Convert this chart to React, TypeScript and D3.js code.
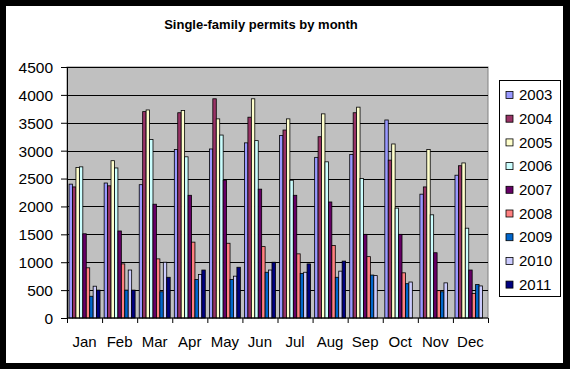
import React, { useEffect, useRef } from 'react';
import * as d3 from 'd3';

const months = ['Jan', 'Feb', 'Mar', 'Apr', 'May', 'Jun', 'Jul', 'Aug', 'Sep', 'Oct', 'Nov', 'Dec'];
const years = ['2003', '2004', '2005', '2006', '2007', '2008', '2009', '2010', '2011'];
const colors = ['#9999FF', '#993366', '#FFFFCC', '#CCFFFF', '#660066', '#FF8080', '#0066CC', '#CCCCFF', '#000080'];

const v2003 = [2400, 2420, 2390, 3020, 3030, 3140, 3270, 2880, 2930, 3550, 2220, 2560];
const v2004 = [2350, 2370, 3700, 3680, 3930, 3600, 3370, 3250, 3680, 2830, 2350, 2730];
const v2005 = [2700, 2820, 3730, 3720, 3570, 3930, 3570, 3660, 3780, 3120, 3020, 2780];
const v2006 = [2710, 2690, 3200, 2890, 3280, 3180, 2470, 2800, 2500, 1970, 1850, 1610];
const v2007 = [1510, 1560, 2040, 2200, 2470, 2310, 2200, 2080, 1500, 1500, 1170, 860];
const v2008 = [900, 970, 1060, 1360, 1340, 1280, 1150, 1300, 1100, 810, 490, 440];
const v2009 = [390, 500, 470, 690, 690, 820, 800, 730, 770, 615, 470, 600];
const v2010 = [570, 860, 1000, 780, 750, 860, 820, 840, 760, 645, 630, 575];
const v2011 = [500, 500, 730, 860, 910, 1000, 970, 1020, null, null, null, null];

const series = [v2003, v2004, v2005, v2006, v2007, v2008, v2009, v2010, v2011];
const yTicks = [0, 500, 1000, 1500, 2000, 2500, 3000, 3500, 4000, 4500];

const width = 570,
  height = 369;
const plot = { left: 67, right: 488, top: 67, bottom: 318 };
const font = 'Liberation Sans, Arial, sans-serif';

export default function App() {
  const ref = useRef<SVGSVGElement>(null);

  useEffect(() => {
    const svg = d3.select(ref.current);
    svg.selectAll('*').remove();

    // frame
    svg.append('rect').attr('width', width).attr('height', height).attr('fill', '#000');
    svg.append('rect').attr('x', 6).attr('y', 6).attr('width', 557).attr('height', 357).attr('fill', '#fff');

    svg
      .append('text')
      .attr('x', 261)
      .attr('y', 29)
      .attr('text-anchor', 'middle')
      .attr('font-family', font)
      .attr('font-size', 13)
      .attr('font-weight', 'bold')
      .text('Single-family permits by month');

    const x0 = d3.scaleBand().domain(months).range([plot.left, plot.right]).padding(0);
    const x1 = d3
      .scaleBand()
      .domain(years)
      .range([0, x0.bandwidth()])
      .paddingInner(0)
      .paddingOuter(0.6);
    const y = d3.scaleLinear().domain([0, 4500]).range([plot.bottom, plot.top]);

    svg
      .append('rect')
      .attr('x', plot.left)
      .attr('y', plot.top)
      .attr('width', plot.right - plot.left)
      .attr('height', plot.bottom - plot.top)
      .attr('fill', '#C0C0C0')
      .attr('stroke', '#808080');

    // gridlines
    svg
      .append('g')
      .selectAll('line')
      .data(yTicks.slice(1))
      .join('line')
      .attr('x1', plot.left)
      .attr('x2', plot.right)
      .attr('y1', (d) => Math.round(y(d)) + 0.5)
      .attr('y2', (d) => Math.round(y(d)) + 0.5)
      .attr('stroke', '#000');

    // bars
    const bars = svg.append('g');
    series.forEach((vals, si) => {
      bars
        .append('g')
        .selectAll('rect')
        .data(vals.map((v, i) => ({ month: months[i], v })).filter((d) => d.v != null))
        .join('rect')
        .attr('x', (d) => x0(d.month)! + x1(years[si])!)
        .attr('y', (d) => y(d.v as number))
        .attr('width', x1.bandwidth())
        .attr('height', (d) => y(0) - y(d.v as number))
        .attr('fill', colors[si])
        .attr('stroke', '#000')
        .attr('stroke-width', 0.8);
    });

    // y axis
    const yAxis = svg.append('g').attr('transform', `translate(${plot.left},0)`);
    yAxis.call(
      d3
        .axisLeft(y)
        .tickValues(yTicks)
        .tickFormat(d3.format('d'))
        .tickSize(6)
        .tickSizeOuter(0)
        .tickPadding(8)
    );
    yAxis.selectAll('text').attr('font-size', 15.5).attr('font-family', font).attr('fill', '#000').attr('dy', '0.35em');
    yAxis.selectAll('line, path').attr('stroke', '#000');

    // x axis
    const xAxis = svg.append('g').attr('transform', `translate(0,${plot.bottom})`);
    xAxis
      .append('line')
      .attr('x1', plot.left)
      .attr('x2', plot.right)
      .attr('stroke', '#000');
    xAxis
      .selectAll('line.tick')
      .data(months.concat(['end']))
      .join('line')
      .attr('class', 'tick')
      .attr('x1', (d) => (d === 'end' ? plot.right : x0(d)!) + 0.5)
      .attr('x2', (d) => (d === 'end' ? plot.right : x0(d)!) + 0.5)
      .attr('y1', 0)
      .attr('y2', 5)
      .attr('stroke', '#000');
    xAxis
      .selectAll('text')
      .data(months)
      .join('text')
      .attr('x', (d) => x0(d)! + x0.bandwidth() / 2)
      .attr('y', 29)
      .attr('text-anchor', 'middle')
      .attr('font-family', font)
      .attr('font-size', 15)
      .text((d) => d);

    // legend
    const legend = svg.append('g');
    legend
      .append('rect')
      .attr('x', 499.5)
      .attr('y', 80.5)
      .attr('width', 61)
      .attr('height', 216)
      .attr('fill', '#fff')
      .attr('stroke', '#000');
    const item = legend
      .selectAll('g')
      .data(years)
      .join('g')
      .attr('transform', (_, i) => `translate(506,${95 + i * 23.7})`);
    item
      .append('rect')
      .attr('x', 0)
      .attr('y', -3.5)
      .attr('width', 7)
      .attr('height', 7)
      .attr('fill', (_, i) => colors[i])
      .attr('stroke', '#000')
      .attr('stroke-width', 0.8);
    item
      .append('text')
      .attr('x', 13)
      .attr('y', 0)
      .attr('dy', '0.35em')
      .attr('font-family', font)
      .attr('font-size', 15)
      .text((d) => d);
  }, []);

  return (
    <svg
      ref={ref}
      width={width}
      height={height}
      style={{ position: 'absolute', left: 0, top: 0, display: 'block' }}
    />
  );
}
